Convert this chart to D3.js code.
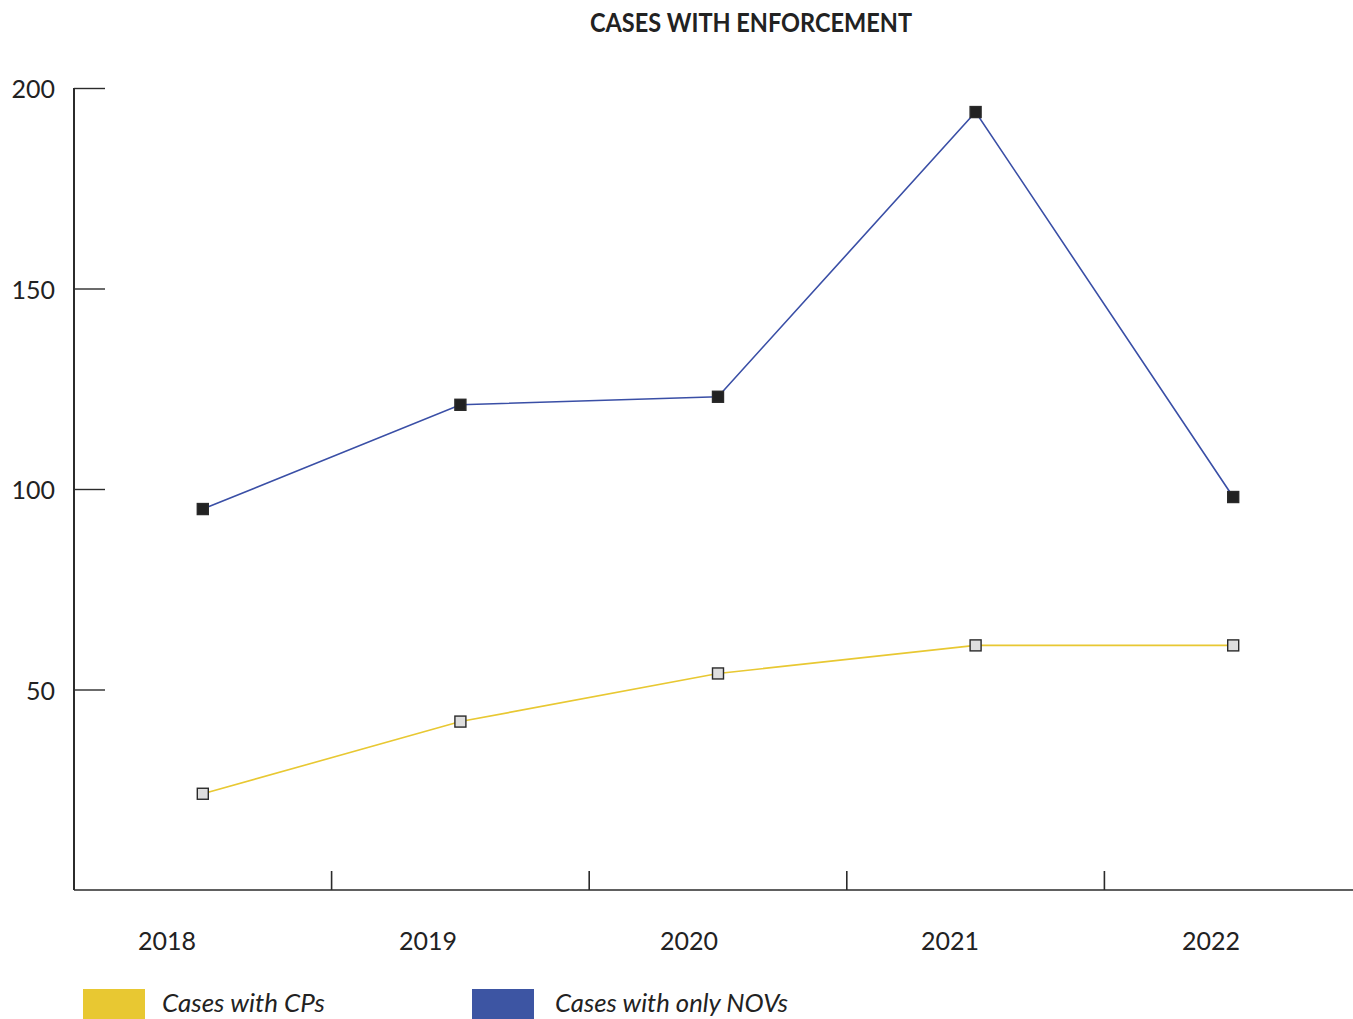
<!DOCTYPE html>
<html>
<head>
<meta charset="utf-8">
<script src="https://cdn.jsdelivr.net/npm/d3@7"></script>
<style>
  html, body { margin: 0; padding: 0; background: #fff; }
  svg { display: block; }
</style>
</head>
<body>
<svg id="chart" width="1353" height="1019"></svg>
<script>
// Enforcement cases per year
const years = ["2018", "2019", "2020", "2021", "2022"];
const casesWithCPs = [24, 42, 54, 61, 61];
const casesWithOnlyNOVs = [95, 121, 123, 194, 98];
const yTicks = [50, 100, 150, 200];
const seriesNames = ["Cases with CPs", "Cases with only NOVs"];
const seriesColors = ["#e8c832", "#3d55a3"];

const svg = d3.select("#chart");
const ink = "#2b2b2b";
const font = "Lato, 'Open Sans', sans-serif";

const x = d3.scaleBand().domain(years).range([74, 1362]).paddingInner(0).paddingOuter(0);
const xLabel = d3.scalePoint().domain(years).range([167, 1211]);
const y = d3.scaleLinear().domain([0, 200]).range([890, 88]);

// Title
svg.append("text")
  .attr("x", 751).attr("y", 32)
  .attr("text-anchor", "middle")
  .attr("font-family", font)
  .attr("font-weight", 700)
  .attr("font-size", 26)
  .attr("textLength", 322)
  .attr("lengthAdjust", "spacingAndGlyphs")
  .attr("fill", "#222")
  .text("CASES WITH ENFORCEMENT");

// Y axis: ticks point inward toward the plot
const yAxis = d3.axisRight(y).tickValues(yTicks).tickSize(31).tickFormat("");
const gy = svg.append("g").attr("transform", "translate(74,0)").call(yAxis);
gy.select(".domain").remove();
gy.selectAll(".tick line").attr("stroke", ink).attr("stroke-width", 1.4);
gy.append("line").attr("x1", 0).attr("x2", 0).attr("y1", y(200)).attr("y2", y(0))
  .attr("stroke", ink).attr("stroke-width", 2);

svg.append("g").selectAll("text").data(yTicks).join("text")
  .attr("x", 55).attr("y", d => y(d) + 10)
  .attr("text-anchor", "end")
  .attr("font-family", font)
  .attr("font-size", 25)
  .attr("fill", "#222")
  .text(d => d);

// X axis: baseline plus separators between years
svg.append("line").attr("x1", 74).attr("x2", 1353).attr("y1", y(0)).attr("y2", y(0))
  .attr("stroke", ink).attr("stroke-width", 1.6);
svg.append("g").selectAll("line").data(years.slice(1)).join("line")
  .attr("x1", d => x(d)).attr("x2", d => x(d))
  .attr("y1", y(0)).attr("y2", y(0) - 19)
  .attr("stroke", ink).attr("stroke-width", 1.6);

svg.append("g").selectAll("text").data(years).join("text")
  .attr("x", d => xLabel(d)).attr("y", 950)
  .attr("text-anchor", "middle")
  .attr("font-family", font)
  .attr("font-size", 25)
  .attr("fill", "#222")
  .text(d => d);

const cx = d => x(d) + x.bandwidth() / 2;
const line = d3.line().x(d => cx(d.year)).y(d => y(d.value));

function drawSeries(values, color, markerFill) {
  const pts = years.map((yr, i) => ({ year: yr, value: values[i] }));
  svg.append("path").datum(pts)
    .attr("d", line)
    .attr("fill", "none")
    .attr("stroke", color)
    .attr("stroke-width", 1.6);
  const s = 11;
  svg.append("g").selectAll("rect").data(pts).join("rect")
    .attr("x", d => cx(d.year) - s / 2)
    .attr("y", d => y(d.value) - s / 2)
    .attr("width", s).attr("height", s)
    .attr("fill", markerFill)
    .attr("stroke", "#2a2a2a")
    .attr("stroke-width", 1.4);
}

drawSeries(casesWithOnlyNOVs, "#3a4fa6", "#222");
drawSeries(casesWithCPs, "#e8c832", "#dedede");

// Legend
const legendX = [83, 472];
const legendTextLen = [163, 233];
const legend = svg.append("g").selectAll("g").data(seriesNames).join("g")
  .attr("transform", (d, i) => `translate(${legendX[i]},989)`);
legend.append("rect").attr("width", 62).attr("height", 30)
  .attr("fill", (d, i) => seriesColors[i]);
legend.append("text")
  .attr("x", (d, i) => (i === 0 ? 79 : 83)).attr("y", 23)
  .attr("font-family", font)
  .attr("font-style", "italic")
  .attr("font-size", 26)
  .attr("textLength", (d, i) => legendTextLen[i])
  .attr("lengthAdjust", "spacingAndGlyphs")
  .attr("fill", "#222")
  .text(d => d);
</script>
</body>
</html>
